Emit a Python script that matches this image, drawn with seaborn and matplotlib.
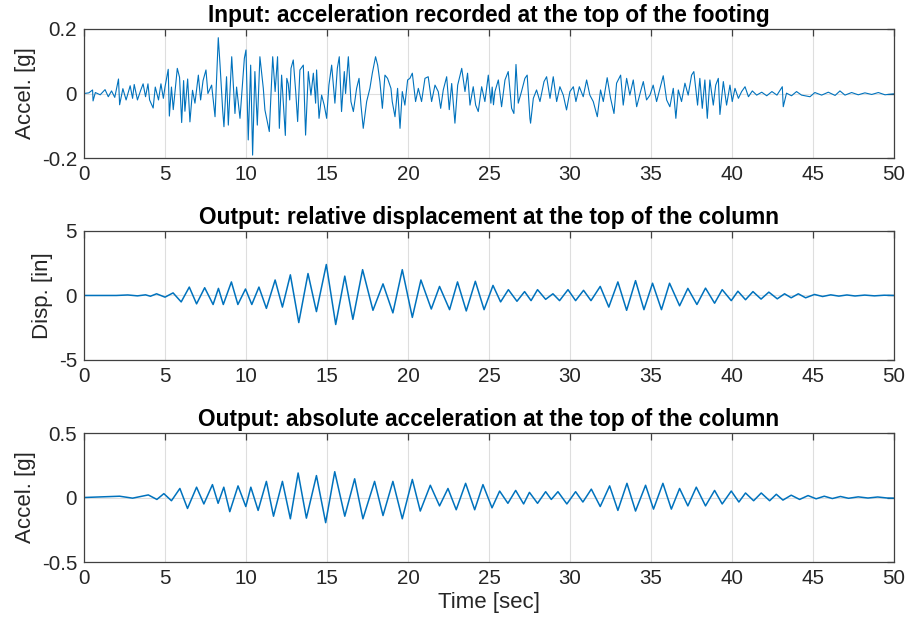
import numpy as np
import pandas as pd
import matplotlib
matplotlib.use('Agg')
import matplotlib.pyplot as plt
import seaborn as sns

# Input ground acceleration [g]: (time [s], value), peaks and valleys
acc_in_pts = [
    (0.0, 0.0), (0.3, 0.002), (0.53, 0.011), (0.56, -0.023), (0.7, 0.003), (1.0, -0.004), (1.3, 0.012),
    (1.5, -0.01), (1.7, 0.008), (1.9, -0.012), (2.13, 0.045), (2.2, -0.035), (2.4, 0.015), (2.6, -0.02),
    (2.85, 0.024), (3.0, -0.015), (3.1, 0.028), (3.3, -0.02), (3.5, 0.01), (3.65, 0.03), (3.8, -0.01),
    (3.95, 0.03), (4.05, -0.02), (4.27, -0.045), (4.4, 0.02), (4.6, -0.02), (4.75, 0.03), (4.9, -0.015),
    (5.0, 0.02), (5.2, 0.075), (5.27, -0.07), (5.4, 0.02), (5.51, -0.05), (5.76, 0.078), (5.9, 0.05),
    (6.03, -0.09), (6.15, 0.04), (6.23, -0.055), (6.4, 0.045), (6.54, -0.088), (6.7, 0.01), (6.85, -0.03),
    (7.06, 0.057), (7.2, -0.02), (7.35, 0.04), (7.53, 0.073), (7.65, 0.0), (7.88, 0.026), (8.09, -0.072),
    (8.29, 0.173), (8.4, 0.088), (8.56, -0.051), (8.64, -0.103), (8.8, 0.052), (8.91, -0.098),
    (9.12, 0.114), (9.32, -0.062), (9.42, 0.02), (9.63, -0.077), (9.9, 0.109), (10.0, 0.135),
    (10.14, -0.144), (10.29, 0.088), (10.41, -0.191), (10.55, 0.068), (10.7, -0.098), (10.86, 0.114),
    (11.07, 0.016), (11.17, -0.051), (11.44, -0.118), (11.65, 0.114), (11.8, 0.006), (11.95, 0.114),
    (12.06, -0.108), (12.2, 0.057), (12.35, -0.067), (12.43, -0.13), (12.52, 0.047), (12.61, 0.03),
    (12.7, -0.02), (12.78, 0.078), (12.92, 0.104), (13.07, 0.006), (13.19, -0.087), (13.33, 0.073),
    (13.54, 0.088), (13.68, -0.129), (13.85, 0.068), (14.01, -0.005), (14.16, 0.063), (14.3, -0.03),
    (14.36, 0.073), (14.51, -0.077), (14.67, -0.005), (14.83, -0.036), (14.98, -0.077), (15.12, 0.026),
    (15.29, 0.088), (15.49, -0.03), (15.64, 0.078), (15.76, 0.114), (15.9, -0.056), (16.07, 0.068),
    (16.15, 0.0), (16.32, 0.114), (16.48, -0.025), (16.63, -0.056), (16.83, 0.016), (16.98, 0.047),
    (17.1, -0.036), (17.24, -0.108), (17.45, -0.025), (17.65, 0.016), (17.8, 0.063), (18.0, 0.114),
    (18.13, 0.088), (18.27, 0.036), (18.42, -0.046), (18.58, 0.057), (18.74, 0.047), (18.95, 0.016),
    (19.03, -0.025), (19.2, -0.072), (19.36, 0.016), (19.51, -0.108), (19.65, 0.006), (19.81, -0.036),
    (19.98, 0.042), (20.12, 0.047), (20.27, 0.063), (20.47, -0.025), (20.64, 0.016), (20.84, -0.025),
    (21.05, 0.047), (21.25, 0.052), (21.46, -0.025), (21.67, 0.026), (21.87, 0.006), (22.02, -0.046),
    (22.18, 0.011), (22.39, 0.052), (22.55, -0.05), (22.7, 0.031), (22.9, -0.092), (23.07, 0.026),
    (23.32, 0.078), (23.52, 0.006), (23.68, 0.063), (23.83, -0.036), (24.03, 0.021), (24.18, -0.036),
    (24.34, -0.056), (24.55, 0.021), (24.75, -0.025), (24.96, 0.057), (25.12, -0.03), (25.2, 0.02),
    (25.28, -0.035), (25.37, 0.006), (25.58, 0.042), (25.78, -0.041), (25.99, 0.042), (26.19, 0.068),
    (26.4, -0.046), (26.54, -0.062), (26.67, 0.09), (26.81, -0.03), (27.01, 0.006), (27.22, 0.047),
    (27.36, 0.057), (27.53, -0.077), (27.57, -0.092), (27.74, -0.015), (27.94, 0.011), (28.15, -0.025),
    (28.4, 0.037), (28.56, 0.052), (28.77, -0.015), (28.97, 0.052), (29.18, -0.025), (29.38, 0.021),
    (29.59, -0.005), (29.79, -0.051), (30.0, 0.006), (30.21, 0.021), (30.37, -0.025), (30.58, 0.021),
    (30.82, -0.01), (31.03, 0.042), (31.23, -0.005), (31.44, -0.025), (31.69, -0.072), (31.89, 0.011),
    (32.06, -0.025), (32.3, 0.049), (32.51, -0.015), (32.72, -0.062), (32.88, 0.032), (33.13, 0.057),
    (33.29, -0.036), (33.5, 0.047), (33.7, -0.005), (33.91, 0.042), (34.12, -0.041), (34.36, 0.006),
    (34.53, 0.037), (34.73, -0.02), (34.94, -0.005), (35.14, 0.026), (35.35, -0.025), (35.56, 0.016),
    (35.76, 0.055), (35.97, -0.02), (36.17, -0.041), (36.38, 0.016), (36.54, -0.077), (36.69, 0.011),
    (36.89, -0.025), (37.1, 0.032), (37.3, -0.005), (37.51, 0.057), (37.65, 0.068), (37.88, -0.036),
    (38.02, 0.047), (38.17, -0.046), (38.33, 0.042), (38.48, -0.077), (38.64, 0.042), (38.85, -0.036),
    (39.0, 0.026), (39.16, 0.047), (39.26, -0.065), (39.47, 0.037), (39.67, -0.036), (39.88, 0.026),
    (40.02, -0.025), (40.19, 0.016), (40.4, -0.015), (40.6, 0.006), (40.81, 0.021), (41.02, -0.01),
    (41.26, 0.008), (41.53, -0.005), (41.84, 0.004), (42.15, -0.007), (42.47, 0.006), (42.78, -0.005),
    (43.11, 0.021), (43.17, -0.041), (43.37, 0.001), (43.68, -0.007), (43.99, 0.006), (44.3, -0.005),
    (44.82, -0.01), (45.12, 0.003), (45.54, -0.005), (45.95, 0.004), (46.37, -0.006), (46.67, 0.008),
    (46.98, -0.005), (47.39, 0.003), (47.8, -0.004), (48.21, 0.002), (48.63, -0.003), (49.04, 0.003),
    (49.45, -0.004), (50.0, -0.001),
]

# Relative displacement at column top [in]: peaks and valleys
disp_pts = [
    (0.0, 0.0), (2.0, 0.0), (2.7, 0.04), (3.3, -0.03), (3.8, 0.05), (4.1, -0.06), (4.48, 0.13),
    (5.0, -0.13), (5.5, 0.2), (6.0, -0.5), (6.5, 0.65), (6.95, -0.65), (7.45, 0.6), (7.97, -0.7),
    (8.3, 0.55), (8.6, -0.7), (9.1, 1.05), (9.5, -0.7), (9.97, 0.5), (10.36, -0.7), (10.8, 0.65),
    (11.26, -1.0), (11.8, 1.2), (12.25, -0.9), (12.74, 1.6), (13.26, -2.1), (13.83, 1.7), (14.35, -1.25),
    (14.96, 2.4), (15.54, -2.25), (16.1, 1.5), (16.6, -1.85), (17.2, 2.0), (17.84, -1.15), (18.46, 0.9),
    (19.07, -1.35), (19.65, 2.0), (20.27, -1.7), (20.8, 1.2), (21.44, -1.05), (21.95, 0.7),
    (22.57, -1.1), (23.06, 1.05), (23.6, -1.2), (24.16, 1.1), (24.7, -1.1), (25.25, 0.78),
    (25.72, -0.5), (26.2, 0.45), (26.73, -0.45), (27.2, 0.3), (27.6, -0.4), (28.0, 0.45), (28.5, -0.3),
    (28.95, 0.13), (29.36, -0.4), (29.88, 0.45), (30.35, -0.4), (30.84, 0.4), (31.3, -0.4),
    (31.87, 0.7), (32.4, -0.9), (32.96, 1.05), (33.5, -1.15), (34.05, 1.15), (34.57, -1.1),
    (35.1, 0.95), (35.65, -1.1), (36.15, 0.95), (36.77, -0.8), (37.28, 0.55), (37.84, -0.7),
    (38.37, 0.57), (38.93, -0.6), (39.4, 0.45), (39.96, -0.4), (40.37, 0.33), (40.84, -0.33),
    (41.3, 0.3), (41.8, -0.28), (42.28, 0.26), (42.8, -0.26), (43.25, 0.13), (43.66, -0.18),
    (44.1, 0.13), (44.55, -0.18), (45.1, 0.08), (45.6, -0.08), (46.1, 0.05), (46.6, -0.05),
    (47.1, 0.04), (47.6, -0.04), (48.2, 0.03), (48.8, -0.03), (49.4, 0.02), (50.0, 0.0),
]

# Absolute acceleration at column top [g]: peaks and valleys
acc_out_pts = [
    (0.0, 0.0), (2.2, 0.01), (3.0, -0.005), (3.97, 0.02), (4.5, -0.015), (4.93, 0.03), (5.4, -0.025),
    (5.92, 0.07), (6.39, -0.085), (6.95, 0.08), (7.4, -0.05), (7.93, 0.1), (8.28, -0.045), (8.63, 0.08),
    (9.0, -0.11), (9.51, 0.09), (9.99, -0.07), (10.3, 0.08), (10.75, -0.1), (11.26, 0.125),
    (11.7, -0.145), (12.25, 0.125), (12.74, -0.165), (13.22, 0.19), (13.73, -0.16), (14.35, 0.17),
    (14.92, -0.195), (15.48, 0.2), (16.1, -0.145), (16.71, 0.145), (17.22, -0.165), (17.94, 0.125),
    (18.46, -0.14), (19.07, 0.125), (19.65, -0.165), (20.27, 0.14), (20.76, -0.105), (21.38, 0.095),
    (21.95, -0.065), (22.47, 0.07), (22.98, -0.095), (23.56, 0.11), (24.12, -0.095), (24.63, 0.1),
    (25.19, -0.08), (25.66, 0.05), (26.17, -0.045), (26.65, 0.055), (27.14, -0.05), (27.5, 0.04),
    (28.0, -0.045), (28.5, 0.045), (28.85, -0.015), (29.26, 0.045), (29.81, -0.05), (30.35, 0.045),
    (30.8, -0.035), (31.32, 0.065), (31.87, -0.07), (32.45, 0.09), (32.96, -0.1), (33.52, 0.11),
    (34.05, -0.105), (34.67, 0.095), (35.16, -0.09), (35.74, 0.11), (36.26, -0.09), (36.77, 0.07),
    (37.28, -0.065), (37.8, 0.08), (38.37, -0.065), (38.93, 0.055), (39.4, -0.05), (39.96, 0.05),
    (40.43, -0.035), (40.84, 0.035), (41.34, -0.025), (41.81, 0.035), (42.33, -0.025), (42.74, 0.025),
    (43.15, -0.02), (43.66, 0.018), (44.18, -0.015), (44.7, 0.015), (45.2, -0.01), (45.7, 0.01),
    (46.2, -0.008), (46.7, 0.008), (47.2, -0.006), (47.8, 0.005), (48.4, -0.004), (49.0, 0.004),
    (49.6, -0.004), (50.0, -0.005),
]

titles = ['Input: acceleration recorded at the top of the footing',
          'Output: relative displacement at the top of the column',
          'Output: absolute acceleration at the top of the column']
ylabels = ['Accel. [g]', 'Disp. [in]', 'Accel. [g]']
ylims = [(-0.2, 0.2), (-5, 5), (-0.5, 0.5)]
yticks = [[-0.2, 0, 0.2], [-5, 0, 5], [-0.5, 0, 0.5]]
ytick_labels = [['-0.2', '0', '0.2'], ['-5', '0', '5'], ['-0.5', '0', '0.5']]
xticks = [0, 5, 10, 15, 20, 25, 30, 35, 40, 45, 50]

sns.set_theme(style='white')
plt.rcParams['font.family'] = ['Liberation Sans', 'DejaVu Sans']

fig = plt.figure(figsize=(9.1, 6.29), dpi=100)
bottoms = [0.7488, 0.4277, 0.1065]
series = [(acc_in_pts, 0.8), (disp_pts, 1.1), (acc_out_pts, 1.1)]
line_color = '#0072BD'
axis_color = '#404040'

for i in range(3):
    ax = fig.add_axes([0.0923, bottoms[i], 0.890, 0.2051])
    pts, lw = series[i]
    df = pd.DataFrame(pts, columns=['t', 'y'])
    sns.lineplot(data=df, x='t', y='y', ax=ax, color=line_color, linewidth=lw, sort=False)
    ax.set_xlim(0, 50)
    ax.set_ylim(*ylims[i])
    ax.set_xticks(xticks)
    ax.set_xticklabels([str(v) for v in xticks])
    ax.set_yticks(yticks[i])
    ax.set_yticklabels(ytick_labels[i])
    ax.grid(True, color='#dedede', linewidth=0.8)
    ax.set_axisbelow(True)
    for s in ax.spines.values():
        s.set_visible(True)
        s.set_color(axis_color)
        s.set_linewidth(0.9)
    ax.tick_params(direction='in', length=5, width=0.9, colors=axis_color, labelsize=14.8,
                   labelcolor='#262626', top=True, right=True, pad=5)
    ax.set_title(titles[i], fontsize=16.3, fontweight='bold', color='black', pad=5)
    ax.set_ylabel(ylabels[i], fontsize=16, color='#262626', labelpad=4)
    if i == 2:
        ax.set_xlabel('Time [sec]', fontsize=16, color='#262626', labelpad=3)
    else:
        ax.set_xlabel('')

fig.savefig('out.png', dpi=100)
